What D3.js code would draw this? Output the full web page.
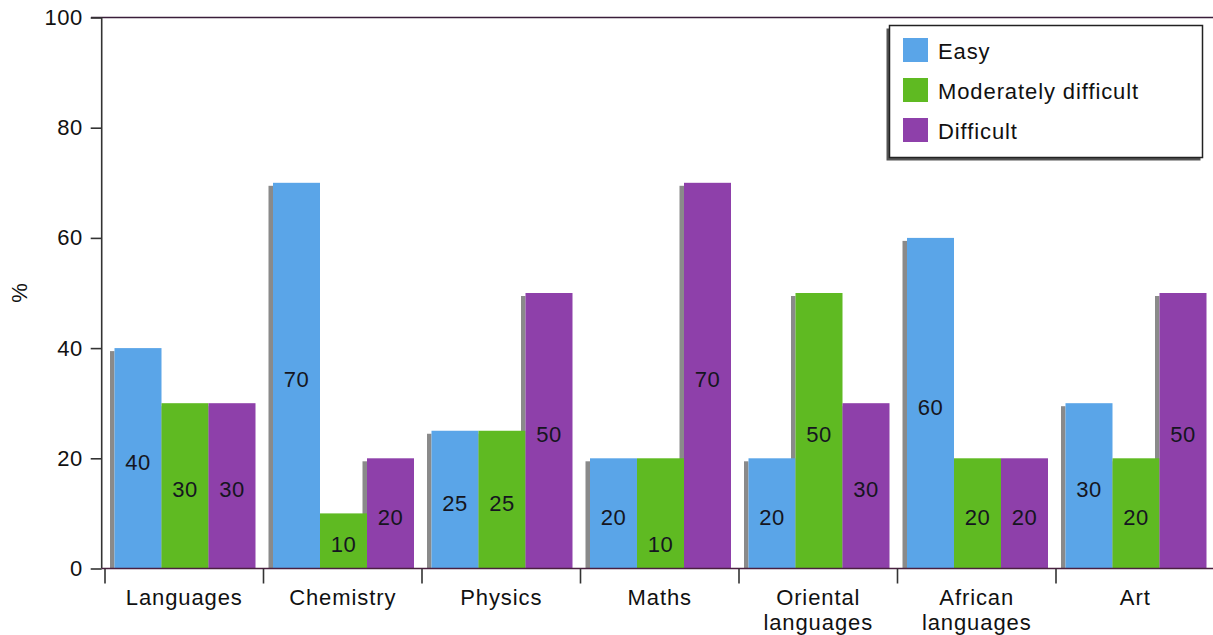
<!DOCTYPE html>
<html><head><meta charset="utf-8">
<script src="https://cdn.jsdelivr.net/npm/d3@7"></script>
<style>
html,body{margin:0;padding:0;background:#fff;}
svg{display:block;font-family:"Liberation Sans",Arial,Helvetica,sans-serif;}
</style></head>
<body>
<script>
const categories = [["Languages"],["Chemistry"],["Physics"],["Maths"],["Oriental","languages"],["African","languages"],["Art"]];
const seriesNames = ["Easy","Moderately difficult","Difficult"];
const easy =      [40,70,25,20,20,60,30];
const moderate =  [30,10,25,20,50,20,20];
const difficult = [30,20,50,70,30,20,50];
// printed labels (the Maths "moderately difficult" bar is drawn at 20 but labelled 10)
const easyLabels =      [40,70,25,20,20,60,30];
const moderateLabels =  [30,10,25,10,50,20,20];
const difficultLabels = [30,20,50,70,30,20,50];
const yTicks = [0,20,40,60,80,100];
const colors = ["#5aa5e8","#5fba22","#8e40aa"];

const series = [easy, moderate, difficult];
const seriesLabels = [easyLabels, moderateLabels, difficultLabels];

const W = 1213, H = 635;
const svg = d3.select("body").append("svg").attr("width", W).attr("height", H);

const y = d3.scaleLinear().domain([0,100]).range([568.5,17.5]);
const x0 = d3.scaleBand().domain(d3.range(categories.length)).range([105,1214.5]).padding(0);
const x1 = d3.scaleBand().domain(d3.range(3)).range([9.5,150.5]).padding(0);

const font = 22;

// top frame line
svg.append("line").attr("x1",91).attr("x2",W).attr("y1",y(100)).attr("y2",y(100))
  .attr("stroke","#3a1e3a").attr("stroke-width",1.6);

// bars data
const bars = [];
categories.forEach((c,i)=>{
  series.forEach((s,j)=>{
    bars.push({i,j,v:s[i],lab:seriesLabels[j][i]});
  });
});

const g = svg.append("g");
// shadows first
g.selectAll("rect.sh").data(bars).join("rect").attr("class","sh")
  .attr("x", d=>x0(d.i)+x1(d.j)-4.5)
  .attr("width",4.5)
  .attr("y", d=>y(d.v)+3)
  .attr("height", d=>y(0)-y(d.v)-3)
  .attr("fill","#8a8a8a");
g.selectAll("rect.bar").data(bars).join("rect").attr("class","bar")
  .attr("x", d=>x0(d.i)+x1(d.j))
  .attr("width", x1.bandwidth())
  .attr("y", d=>y(d.v))
  .attr("height", d=>y(0)-y(d.v))
  .attr("fill", d=>colors[d.j]);

// value labels
g.selectAll("text.val").data(bars).join("text").attr("class","val")
  .attr("x", d=>x0(d.i)+x1(d.j)+x1.bandwidth()/2)
  .attr("y", d=>y(d.lab/2)+4)
  .attr("text-anchor","middle").attr("dominant-baseline","central")
  .attr("font-size",font).attr("letter-spacing","0.5px")
  .attr("fill","#151520")
  .text(d=>d.lab);

// y axis
const yAxis = d3.axisLeft(y).tickValues(yTicks).tickSize(11).tickPadding(8);
const ya = svg.append("g").attr("transform","translate(101.7,0)").call(yAxis);
ya.select(".domain").attr("stroke","#333").attr("stroke-width",1.6).attr("d",`M0,${y(100)}V${y(0)}`);
ya.selectAll(".tick line").attr("stroke","#333").attr("stroke-width",1.6);
ya.selectAll(".tick text").attr("font-size",font).attr("fill","#111")
  .attr("font-family","Liberation Sans, Arial, sans-serif").attr("letter-spacing","0.5px");

// x axis baseline
svg.append("line").attr("x1",101.7).attr("x2",W).attr("y1",y(0)).attr("y2",y(0))
  .attr("stroke","#4a2040").attr("stroke-width",1.6);
// x category ticks at band boundaries
svg.append("g").selectAll("line").data(d3.range(categories.length)).join("line")
  .attr("x1",d=>x0(d)).attr("x2",d=>x0(d))
  .attr("y1",y(0)).attr("y2",y(0)+15)
  .attr("stroke","#333").attr("stroke-width",1.6);

// category labels
const cl = svg.append("g").selectAll("text").data(categories).join("text")
  .attr("x",(d,i)=>x0(i)+x0.bandwidth()/2)
  .attr("y",605)
  .attr("text-anchor","middle").attr("font-size",font).attr("letter-spacing","0.9px").attr("fill","#111");
cl.selectAll("tspan").data(d=>d).join("tspan")
  .attr("x",function(){return this.parentNode.getAttribute("x");})
  .attr("dy",(d,k)=>k===0?0:25)
  .text(d=>d);

// y label
svg.append("text").attr("transform","translate(27,293) rotate(-90)")
  .attr("text-anchor","middle").attr("font-size",font).attr("fill","#111").text("%");

// legend
const lg = svg.append("g");
lg.append("rect").attr("x",886.5).attr("y",28.5).attr("width",314).attr("height",132).attr("fill","#555");
lg.append("rect").attr("x",889.5).attr("y",25.5).attr("width",313).attr("height",132)
  .attr("fill","#fff").attr("stroke","#222").attr("stroke-width",1.5);
const li = lg.selectAll("g.li").data(seriesNames).join("g").attr("class","li")
  .attr("transform",(d,i)=>`translate(903,${38+i*40})`);
li.append("rect").attr("width",25).attr("height",24).attr("fill",(d,i)=>colors[i]);
li.append("text").attr("x",35).attr("y",13.5).attr("dominant-baseline","central")
  .attr("font-size",font).attr("letter-spacing","0.9px").attr("fill","#111").text(d=>d);
</script>
</body></html>
